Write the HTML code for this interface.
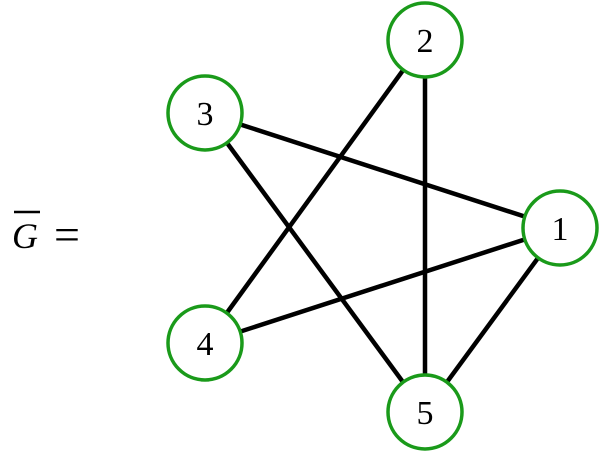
<!DOCTYPE html>
<html><head><style>body{margin:0;background:#fff}</style></head><body>
<svg width="600" height="452" xmlns="http://www.w3.org/2000/svg">
<g stroke="#000" stroke-width="4.5">
<line x1="205" y1="113" x2="560" y2="228"/>
<line x1="205" y1="113" x2="425" y2="412"/>
<line x1="425" y1="40" x2="205" y2="343"/>
<line x1="425" y1="40" x2="425" y2="412"/>
<line x1="205" y1="343" x2="560" y2="228"/>
<line x1="560" y1="228" x2="425" y2="412"/>
</g>
<g fill="#fff" stroke="#1a9a1a" stroke-width="3.5">
<circle cx="425" cy="40" r="37"/>
<circle cx="205" cy="113" r="37"/>
<circle cx="560" cy="228" r="37"/>
<circle cx="205" cy="343" r="37"/>
<circle cx="425" cy="412" r="37"/>
</g>
<g font-family="Liberation Serif, serif" font-size="34" text-anchor="middle">
<text x="425" y="52">2</text>
<text x="205" y="125">3</text>
<text x="560" y="240">1</text>
<text x="205" y="355">4</text>
<text x="425" y="424">5</text>
</g>
<line x1="14" y1="212" x2="40" y2="212" stroke="#000" stroke-width="2.5"/>
<text x="12" y="248" font-family="Liberation Serif, serif" font-size="36" font-style="italic">G</text>
<text x="54" y="250" font-family="Liberation Serif, serif" font-size="46">=</text>
</svg>
</body></html>
